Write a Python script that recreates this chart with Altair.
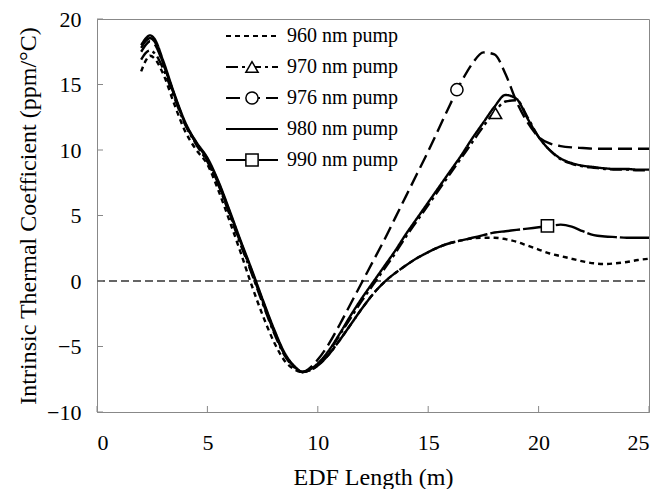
import altair as alt
import pandas as pd

# ---------------- data ----------------
x_len = [2.0, 2.2, 2.4, 2.6, 3.0, 3.5, 4.0, 4.5, 5.0, 5.5,
         6.0, 6.5, 7.0, 7.5, 8.0, 8.5, 9.0, 9.3, 9.6, 10.0,
         10.5, 11.0, 11.5, 12.0, 12.5, 13.0, 13.5, 14.0, 14.5, 15.0,
         15.5, 16.0, 16.5, 17.0, 17.5, 18.0, 18.5, 19.0, 19.5, 20.0,
         20.5, 21.0, 21.5, 22.0, 22.5, 23.0, 23.5, 24.0, 24.5, 25.0]

y960 = [16.0, 16.8, 17.2, 17.0, 15.8, 13.5, 11.4, 10.0, 8.9, 6.9,
        4.6, 2.2, -0.3, -2.6, -4.6, -6.1, -6.8, -6.95, -6.85, -6.45,
        -5.6, -4.5, -3.3, -2.1, -1.0, -0.1, 0.6, 1.2, 1.75, 2.2,
        2.6, 2.9, 3.1, 3.25, 3.3, 3.3, 3.2, 3.0, 2.7, 2.4,
        2.1, 1.9, 1.7, 1.5, 1.35, 1.3, 1.35, 1.45, 1.6, 1.7]

y970 = [16.9, 17.4, 17.6, 17.4, 16.2, 14.0, 11.9, 10.4, 9.1, 7.3,
        5.1, 2.8, 0.6, -1.7, -3.9, -5.7, -6.7, -6.95, -6.8, -6.35,
        -5.4, -4.1, -2.8, -1.5, -0.3, 0.9, 2.1, 3.4, 4.6, 5.8,
        7.0, 8.2, 9.4, 10.6, 11.8, 12.9, 13.7, 13.8, 12.5, 11.0,
        10.0, 9.3, 8.95, 8.75, 8.65, 8.55, 8.5, 8.5, 8.45, 8.45]

y976 = [17.5, 18.0, 18.3, 18.1, 16.6, 14.2, 12.0, 10.5, 9.2, 7.4,
        5.2, 2.9, 0.7, -1.6, -3.8, -5.6, -6.65, -6.95, -6.7, -6.0,
        -4.8, -3.3, -1.7, -0.1, 1.5, 3.1, 4.8, 6.5, 8.2, 9.9,
        11.7, 13.5, 15.2, 16.6, 17.45, 17.3, 15.8, 13.7, 12.1, 11.0,
        10.5, 10.3, 10.2, 10.15, 10.1, 10.1, 10.1, 10.1, 10.1, 10.1]

y980 = [18.0, 18.5, 18.75, 18.5, 16.8, 14.3, 12.1, 10.6, 9.4, 7.6,
        5.4, 3.1, 0.9, -1.4, -3.6, -5.5, -6.6, -6.95, -6.8, -6.3,
        -5.3, -4.0, -2.6, -1.3, -0.1, 1.1, 2.3, 3.6, 4.8, 6.0,
        7.2, 8.4, 9.6, 10.9, 12.1, 13.3, 14.2, 13.9, 12.4, 11.0,
        10.0, 9.35, 9.0, 8.8, 8.7, 8.6, 8.55, 8.55, 8.5, 8.5]

y990 = [17.8, 18.3, 18.55, 18.3, 16.6, 14.2, 12.0, 10.5, 9.3, 7.5,
        5.3, 3.0, 0.8, -1.5, -3.7, -5.6, -6.65, -6.95, -6.85, -6.45,
        -5.6, -4.5, -3.3, -2.1, -1.0, -0.1, 0.6, 1.2, 1.75, 2.2,
        2.6, 2.9, 3.1, 3.3, 3.5, 3.7, 3.8, 3.9, 4.0, 4.1,
        4.2, 4.3, 4.15, 3.8, 3.5, 3.4, 3.35, 3.3, 3.3, 3.3]

series_names = ["960 nm pump", "970 nm pump", "976 nm pump", "980 nm pump", "990 nm pump"]
series_values = [y960, y970, y976, y980, y990]

# markers on curves
marker_series = ["970 nm pump", "976 nm pump", "990 nm pump"]
marker_x = [18.05, 16.3, 20.4]
marker_y = [12.8, 14.6, 4.2]
marker_shape = ["triangle-up", "circle", "square"]

zero_x = [0, 25]
zero_y = [0, 0]

x_ticks = [0, 5, 10, 15, 20, 25]
y_ticks = [-10, -5, 0, 5, 10, 15, 20]

# ---------------- styling ----------------
FONT = "Liberation Serif"
W, H = 552, 393
dash_patterns = [[5, 4], [12, 4, 3, 4], [14, 6], [1, 0], [30, 3]]
series_shape = {"970 nm pump": "triangle-up", "976 nm pump": "circle", "990 nm pump": "square"}

rows = []
for name, ys in zip(series_names, series_values):
    for xv, yv in zip(x_len, ys):
        rows.append({"len": xv, "coef": yv, "series": name})
df = pd.DataFrame(rows)

df_m = pd.DataFrame({"len": marker_x, "coef": marker_y, "shape": marker_shape, "series": marker_series})
df_zero = pd.DataFrame({"len": zero_x, "coef": zero_y})
df_xt = pd.DataFrame({"t": x_ticks})
df_yt = pd.DataFrame({"t": y_ticks})

xs = alt.Scale(domain=[0, 25], nice=False, zero=False)
ysc = alt.Scale(domain=[-10, 20], nice=False, zero=False)
dash_scale = alt.Scale(domain=series_names, range=dash_patterns)

axis_common = dict(ticks=False, grid=False, domainColor="#888", labelFont=FONT, titleFont=FONT,
                   labelFontSize=22, titleFontSize=24, titleFontWeight="normal",
                   labelColor="black", titleColor="black")
x_axis = alt.Axis(title="EDF Length (m)", values=x_ticks, labelPadding=20, titlePadding=12,
                  **axis_common)
y_axis = alt.Axis(title="Intrinsic Thermal Coefficient (ppm/\u00b0C)", values=y_ticks,
                  labelPadding=16, titlePadding=6, **axis_common)

zero = alt.Chart(df_zero).mark_line(color="#333", strokeWidth=1.5, strokeDash=[8, 4]).encode(
    x=alt.X("len:Q", scale=xs, axis=x_axis),
    y=alt.Y("coef:Q", scale=ysc, axis=y_axis),
)

lines = alt.Chart(df).mark_line(color="black", strokeWidth=2.4, interpolate="monotone").encode(
    x=alt.X("len:Q", scale=xs),
    y=alt.Y("coef:Q", scale=ysc),
    strokeDash=alt.StrokeDash("series:N", scale=dash_scale, legend=None),
)

markers = alt.Chart(df_m).mark_point(filled=True, fill="white", stroke="black", strokeWidth=1.5,
                                     size=150, opacity=1).encode(
    x=alt.X("len:Q", scale=xs),
    y=alt.Y("coef:Q", scale=ysc),
    shape=alt.Shape("shape:N", scale=None),
)

xticks = alt.Chart(df_xt).mark_rule(color="#888", strokeWidth=1).encode(
    x=alt.X("t:Q", scale=xs), y=alt.value(H), y2=alt.value(H - 6))
yticks = alt.Chart(df_yt).mark_rule(color="#888", strokeWidth=1).encode(
    y=alt.Y("t:Q", scale=ysc), x=alt.value(0), x2=alt.value(6))

# legend (drawn inside the plot)
dummy = pd.DataFrame({"a": [0]})
leg_layers = []
leg_x1, leg_x2, leg_text_x = 129, 181, 190
row_y0, row_step = 17, 31
for i, name in enumerate(series_names):
    yy = row_y0 + i * row_step
    leg_layers.append(alt.Chart(dummy).mark_rule(color="black", strokeWidth=2.2,
                                                  strokeDash=dash_patterns[i]).encode(
        x=alt.value(leg_x1), x2=alt.value(leg_x2), y=alt.value(yy)))
    if name in series_shape:
        leg_layers.append(alt.Chart(dummy).mark_point(filled=True, fill="white", stroke="black",
                                                       strokeWidth=1.5, size=150, opacity=1,
                                                       shape=series_shape[name]).encode(
            x=alt.value((leg_x1 + leg_x2) / 2), y=alt.value(yy)))
    leg_layers.append(alt.Chart(dummy).mark_text(align="left", baseline="middle", font=FONT,
                                                  fontSize=20, color="black", text=name).encode(
        x=alt.value(leg_text_x), y=alt.value(yy)))

chart = alt.layer(zero, lines, markers, xticks, yticks, *leg_layers).properties(
    width=W, height=H, padding={"left": 8, "top": 0, "right": 2, "bottom": 0},
).configure_view(stroke="#888", strokeWidth=1)

chart.save("out.html", embed_options={"renderer": "svg", "actions": False})
